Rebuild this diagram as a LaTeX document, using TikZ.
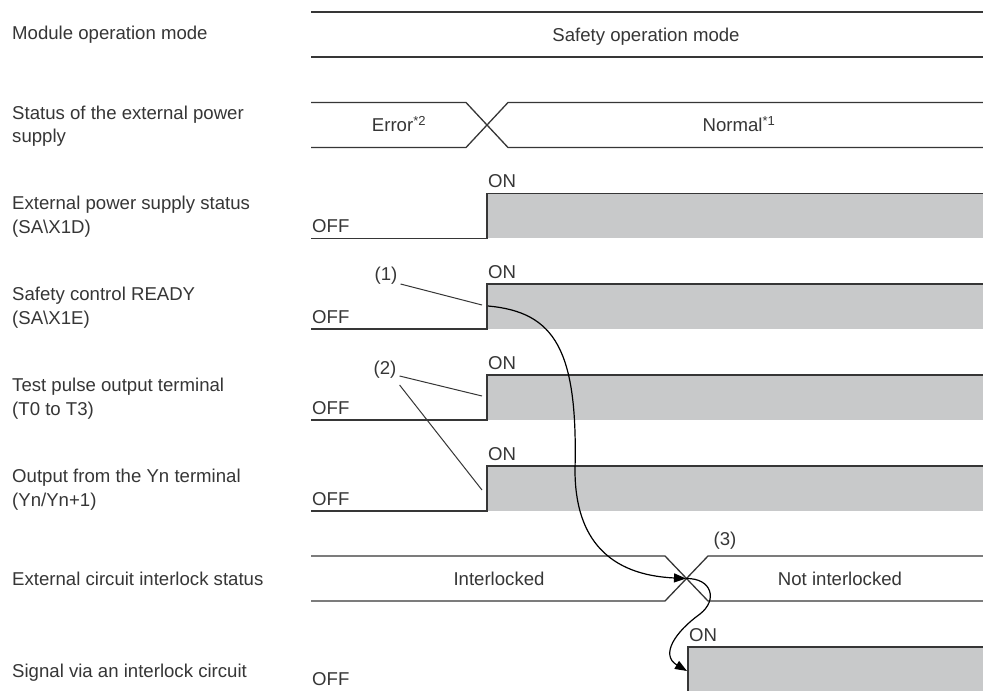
\documentclass[tikz,border=0pt]{standalone}
\usepackage{fontspec}
\setmainfont{Liberation Sans}
\definecolor{Ink}{HTML}{363636}
\definecolor{Level}{HTML}{C8C9CA}
\usetikzlibrary{arrows.meta}

\begin{document}
\begin{tikzpicture}[x=1pt,y=-1pt,
  txt/.style={font=\fontsize{18.6}{23.4}\selectfont,text=Ink,inner sep=0pt},
  rowname/.style={txt,anchor=west,align=left},
  wire/.style={draw=Ink,line width=1.3pt},
  lead/.style={draw=Ink,line width=1pt},
  curve/.style={draw=black,line width=1.2pt,-{Triangle[length=12pt,width=9pt]}}
]
\path[fill=white,use as bounding box] (0,0) rectangle (983,691);

\node[rowname] (n1) at (12,35) {Module operation mode};
\node[rowname] (n2) at (12,126) {Status of the external power\\supply};
\node[rowname] (n3) at (12,216.5) {External power supply status\\(SA\textbackslash X1D)};
\node[rowname] (n4) at (12,307.5) {Safety control READY\\(SA\textbackslash X1E)};
\node[rowname] (n5) at (12,398.5) {Test pulse output terminal\\(T0 to T3)};
\node[rowname] (n6) at (12,489.5) {Output from the Yn terminal\\(Yn/Yn+1)};
\node[rowname] (n7) at (12,578.5) {External circuit interlock status};
\node[rowname] (n8) at (12,673) {Signal via an interlock circuit};

\draw[wire] (311,12) -- (983,12);
\draw[wire] (311,57) -- (983,57);
\node[txt,anchor=base] (mode) at (646,41) {Safety operation mode};

\draw[wire] (311,102.5) -- (466,102.5) -- (508,147.5) -- (983,147.5);
\draw[wire] (311,147.5) -- (466,147.5) -- (508,102.5) -- (983,102.5);
\node[txt,anchor=base] (err) at (399,131.6) {Error\textsuperscript{*2}};
\node[txt,anchor=base] (nrm) at (739,131.6) {Normal\textsuperscript{*1}};

\foreach \t [count=\i from 3] in {193.3,284,375,466} {
  \fill[Level] (487,\t) rectangle (983,\t+45);
  \draw[wire] (311,\t+45) -- (487,\t+45) -- (487,\t) -- (983,\t);
  \node[txt,anchor=base west] (on\i) at (488,\t-6) {ON};
  \node[txt,anchor=base west] (off\i) at (312,\t+39.5) {OFF};
}

\draw[wire] (311,556) -- (665,556) -- (708,601) -- (983,601);
\draw[wire] (311,601) -- (665,601) -- (708,556) -- (983,556);
\node[txt,anchor=base] (ilk) at (499,585) {Interlocked};
\node[txt,anchor=base] (nilk) at (840,585) {Not interlocked};

\fill[Level] (688,647) rectangle (983,691);
\draw[wire] (688,691) -- (688,647) -- (983,647);
\node[txt,anchor=base west] (on8) at (689,641) {ON};
\node[txt,anchor=base west] (off8) at (312,685.5) {OFF};

\node[txt,inner sep=3pt] (c1) at (386,276) {(1)};
\node[txt,inner sep=3pt] (c2) at (385,370) {(2)};
\node[txt,inner sep=3pt] (c3) at (725,541) {(3)};

\coordinate (t1) at (482,305);
\coordinate (t2) at (482,396);
\coordinate (t3) at (482,490);
\coordinate (s1) at (488,306);
\coordinate (x7) at (686,578.5);
\coordinate (in8) at (687,671);

\draw[lead] ([yshift=-8pt]c1.east) -- (t1);
\draw[lead] ([yshift=-6pt]c2.east) -- (t2);
\draw[lead] ([yshift=-15pt]c2.east) -- (t3);

\draw[curve] (s1) .. controls (555,312) and (578,350) .. (575,470)
  .. controls (575,540) and (610,575) .. (x7);
\draw[curve] (x7) .. controls (712,578) and (718,600) .. (700,614)
  .. controls (675,632) and (660,655) .. (in8);
\end{tikzpicture}
\end{document}
